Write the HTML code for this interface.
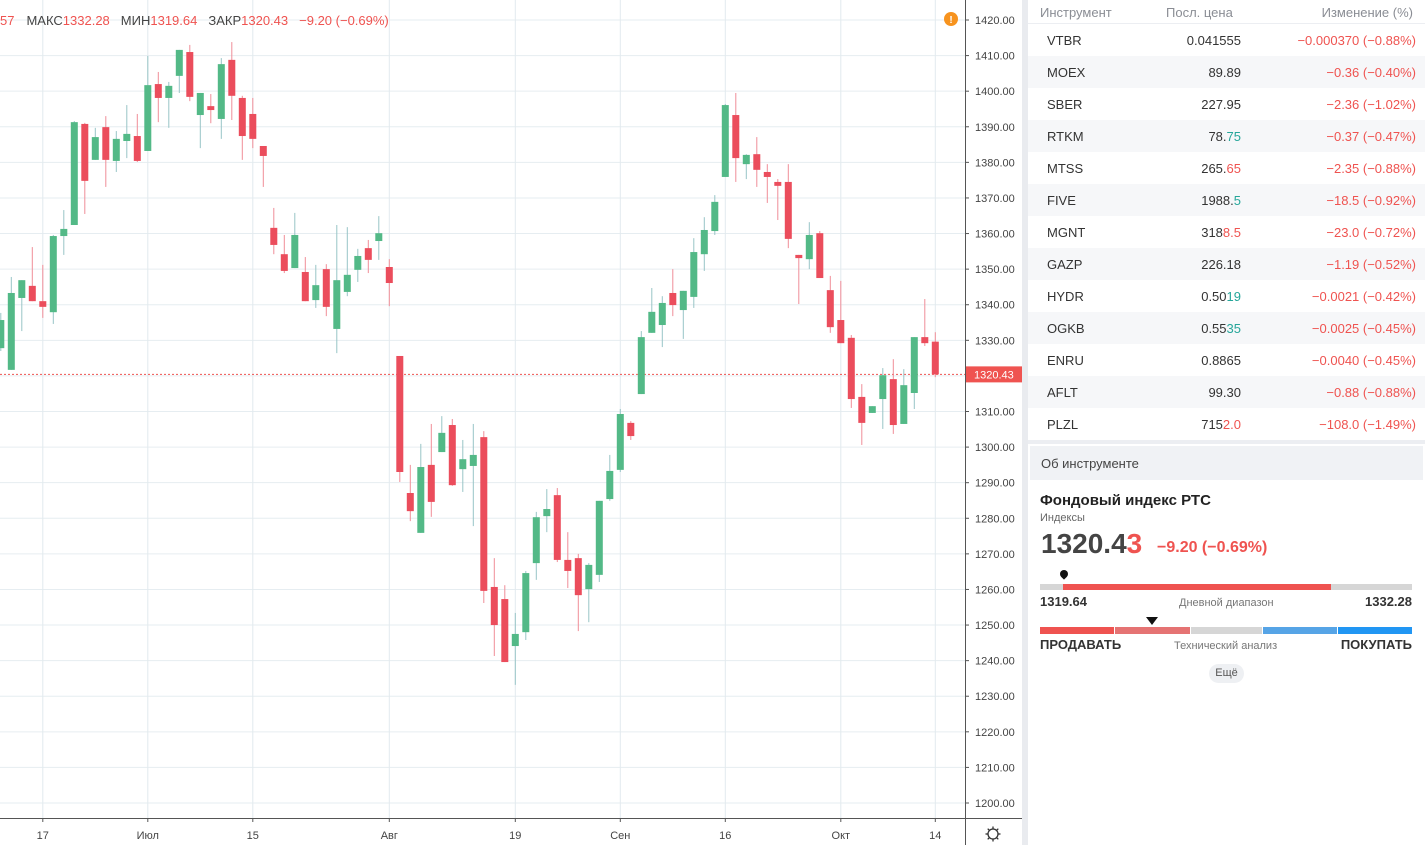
<!DOCTYPE html>
<html><head><meta charset="utf-8">
<style>
*{box-sizing:border-box;margin:0;padding:0}
body{width:1425px;height:845px;overflow:hidden;background:#fff;font-family:"Liberation Sans","DejaVu Sans",sans-serif;color:#333;position:relative}
#chart{position:absolute;left:0;top:0}
#sep{position:absolute;left:1022px;top:0;width:6px;height:845px;background:#e9ebef}
#panel{position:absolute;left:1028px;top:0;width:397px;height:845px;background:#fff}
.th{position:absolute;top:5px;font-size:13px;color:#8a8d94}
.row{position:absolute;left:0;width:397px;height:32px;font-size:13px}
.row.alt{background:#f6f7f9}
.row span{position:absolute;top:9px}
.sym{left:19px;color:#333}
.px{right:184px;color:#333}
.ch{right:9px;color:#ef5350}
.up{color:#26a69a}.dn{color:#ef5350}
</style></head><body>
<svg id="chart" width="1022" height="845"></svg>
<div id="sep"></div>
<div id="panel">
  <div class="th" style="left:12px">Инструмент</div>
  <div class="th" style="left:138px">Посл. цена</div>
  <div class="th" style="right:12px">Изменение (%)</div>
  <div style="position:absolute;left:0;top:23px;width:397px;height:1px;background:#eceef2"></div>
  <div id="rows"></div>
  <div style="position:absolute;left:0;top:440px;width:397px;height:4px;background:#eceef2"></div>
  <div style="position:absolute;left:2px;top:446px;width:393px;height:34px;background:#f0f2f5;font-size:13px;padding:10px 11px;color:#444">Об инструменте</div>
  <div style="position:absolute;left:12px;top:492px;font-size:15px;font-weight:bold;color:#222">Фондовый индекс РТС</div>
  <div style="position:absolute;left:12px;top:512px;font-size:11px;color:#666">Индексы</div>
  <div style="position:absolute;left:13px;top:528px;font-size:28px;font-weight:bold;color:#444">1320.4<span class="dn">3</span></div>
  <div style="position:absolute;left:129px;top:539px;font-size:16px;font-weight:bold;color:#ef5350">−9.20 (−0.69%)</div>
  <div style="position:absolute;left:12px;top:584px;width:372px;height:6px;background:#d6d6d6"></div>
  <div style="position:absolute;left:35px;top:584px;width:268px;height:6px;background:#ef5350"></div>
  <div style="position:absolute;left:32px;top:570px;width:8px;height:8px;border-radius:50% 50% 50% 0;transform:rotate(-45deg);background:#111"></div>
  <div style="position:absolute;left:12px;top:594px;font-size:13px;font-weight:bold;color:#333">1319.64</div>
  <div style="position:absolute;left:151px;top:597px;font-size:11px;color:#777">Дневной диапазон</div>
  <div style="position:absolute;right:13px;top:594px;font-size:13px;font-weight:bold;color:#333">1332.28</div>
  <div style="position:absolute;left:12px;top:627px;width:372px;height:7px">
    <div style="position:absolute;left:0;width:74px;height:7px;background:#ef5350"></div>
    <div style="position:absolute;left:75px;width:75px;height:7px;background:#e57373"></div>
    <div style="position:absolute;left:151px;width:71px;height:7px;background:#d6d6d6"></div>
    <div style="position:absolute;left:223px;width:74px;height:7px;background:#56a4e6"></div>
    <div style="position:absolute;left:298px;width:74px;height:7px;background:#2196f3"></div>
  </div>
  <div style="position:absolute;left:118px;top:617px;width:0;height:0;border-left:6px solid transparent;border-right:6px solid transparent;border-top:8px solid #111"></div>
  <div style="position:absolute;left:12px;top:637px;font-size:13px;font-weight:bold;color:#333">ПРОДАВАТЬ</div>
  <div style="position:absolute;left:146px;top:640px;font-size:11px;color:#777">Технический анализ</div>
  <div style="position:absolute;right:13px;top:637px;font-size:13px;font-weight:bold;color:#333">ПОКУПАТЬ</div>
  <div style="position:absolute;left:181px;top:664px;width:35px;height:19px;border-radius:10px;background:#eef0f3;font-size:11px;color:#555;text-align:center;line-height:19px">Ещё</div>
</div>
<script>
const syms=["VTBR","MOEX","SBER","RTKM","MTSS","FIVE","MGNT","GAZP","HYDR","OGKB","ENRU","AFLT","PLZL"];
const pricesA=["0.041555","89.89","227.95","78.","265.","1988.","318","226.18","0.50","0.55","0.8865","99.30","715"];
const pricesB=["","","","75","65","5","8.5","","19","35","","","2.0"];
const changes=["−0.000370 (−0.88%)","−0.36 (−0.40%)","−2.36 (−1.02%)","−0.37 (−0.47%)","−2.35 (−0.88%)","−18.5 (−0.92%)","−23.0 (−0.72%)","−1.19 (−0.52%)","−0.0021 (−0.42%)","−0.0025 (−0.45%)","−0.0040 (−0.45%)","−0.88 (−0.88%)","−108.0 (−1.49%)"];
const tailUp=[false,false,false,true,false,true,false,false,true,true,false,false,false];
const rowsEl=document.getElementById('rows');
syms.forEach((s,i)=>{
  const r=document.createElement('div');
  r.className='row'+(i%2?' alt':'');
  r.style.top=(24+32*i)+'px';
  
  
  r.innerHTML='<span class="sym">'+s+'</span><span class="px">'+pricesA[i]+'<span style="position:static" class="'+(tailUp[i]?'up':'dn')+'">'+pricesB[i]+'</span></span><span class="ch">'+changes[i]+'</span>';
  rowsEl.appendChild(r);
});

// ---- chart data ----
const opens=[1327.8,1321.7,1341.9,1345.3,1341.0,1337.9,1359.3,1362.4,1390.8,1380.7,1389.9,1380.4,1386.0,1387.4,1383.2,1402.0,1398.1,1404.3,1411.0,1393.3,1395.8,1392.2,1408.8,1398.1,1393.6,1384.6,1361.6,1354.2,1350.3,1349.2,1341.3,1350.0,1333.2,1343.6,1349.8,1355.9,1357.9,1350.6,1325.6,1287.1,1275.9,1295.0,1298.6,1306.2,1293.8,1294.7,1302.8,1260.7,1257.3,1244.1,1248.0,1267.4,1280.6,1286.5,1268.3,1268.8,1260.1,1264.1,1285.4,1293.6,1306.8,1314.9,1332.1,1334.3,1343.3,1338.5,1342.2,1354.2,1360.7,1375.9,1393.3,1379.5,1382.3,1377.3,1374.5,1374.5,1354.0,1352.8,1360.1,1344.1,1335.7,1330.7,1314.1,1309.6,1313.5,1319.1,1306.5,1315.2,1330.9,1329.63];
const highs=[1337.7,1347.8,1346.9,1356.2,1351.2,1359.6,1366.6,1391.6,1391.1,1389.7,1393.0,1388.8,1396.1,1393.6,1409.9,1405.4,1402.6,1411.6,1413.0,1399.5,1399.2,1409.3,1413.8,1398.7,1398.1,1384.6,1367.2,1359.6,1365.8,1353.4,1351.2,1351.4,1362.4,1361.8,1355.7,1358.2,1364.9,1352.8,1325.6,1295.0,1300.9,1306.5,1308.7,1307.9,1302.0,1306.5,1304.5,1268.8,1261.2,1253.4,1265.2,1281.8,1288.2,1288.5,1276.1,1270.0,1267.4,1284.9,1297.8,1310.7,1307.3,1332.6,1344.7,1342.4,1350.0,1343.9,1358.7,1364.6,1370.8,1396.4,1399.5,1382.3,1387.1,1379.5,1375.3,1379.5,1354.0,1363.2,1360.7,1348.1,1346.7,1331.5,1317.7,1311.5,1322.2,1324.7,1321.9,1330.9,1341.6,1332.28];
const lows=[1327.0,1321.7,1332.6,1341.0,1336.3,1334.6,1354.0,1362.4,1365.5,1380.7,1373.1,1377.3,1381.2,1380.1,1383.2,1391.3,1389.7,1399.5,1397.2,1384.0,1391.0,1386.6,1391.9,1380.7,1384.0,1373.1,1354.2,1348.9,1350.3,1341.0,1339.1,1336.8,1326.4,1342.4,1346.4,1348.9,1352.6,1339.6,1290.2,1279.2,1275.9,1280.4,1298.6,1289.1,1287.4,1277.8,1256.2,1241.3,1239.6,1233.2,1245.8,1262.7,1276.1,1267.7,1260.4,1248.3,1250.8,1262.1,1284.9,1293.0,1302.0,1314.9,1332.1,1328.1,1336.8,1330.4,1339.1,1349.5,1359.6,1375.9,1374.5,1375.3,1373.1,1368.6,1363.8,1355.9,1340.2,1350.0,1347.5,1332.1,1329.2,1311.0,1300.6,1309.6,1305.1,1303.7,1306.5,1310.7,1328.4,1319.64];
const closes=[1335.7,1343.3,1346.9,1341.0,1339.4,1359.3,1361.3,1391.3,1374.8,1387.1,1380.7,1386.6,1388.0,1380.4,1401.7,1398.1,1401.5,1411.6,1398.4,1399.5,1394.7,1407.6,1398.7,1387.4,1386.6,1381.8,1356.8,1349.5,1359.6,1341.0,1345.5,1339.4,1346.9,1348.4,1353.7,1352.6,1360.1,1346.1,1293.0,1282.0,1294.4,1284.6,1304.0,1289.3,1296.6,1297.8,1259.6,1250.0,1239.6,1247.5,1264.6,1280.3,1282.6,1268.3,1265.2,1258.4,1266.9,1284.9,1293.3,1309.3,1303.1,1330.9,1338.0,1340.5,1339.9,1343.9,1354.8,1361.0,1368.9,1396.1,1381.2,1382.1,1377.9,1375.9,1373.4,1358.5,1353.1,1359.6,1347.5,1333.7,1329.2,1313.5,1306.8,1311.5,1320.2,1306.2,1317.4,1330.9,1329.2,1320.43];
const priceTicks=[1420,1410,1400,1390,1380,1370,1360,1350,1340,1330,1320,1310,1300,1290,1280,1270,1260,1250,1240,1230,1220,1210,1200];
const dateLabels=["17","Июл","15","Авг","19","Сен","16","Окт","14"];
const dateIndex=[4,14,24,37,49,59,69,80,89];
const lastPrice=1320.43;

const NS='http://www.w3.org/2000/svg';
const svg=document.getElementById('chart');
const PLOT_W=965,PLOT_H=818;
const yS=p=>20+(1420-p)*(783/220);
const xS=i=>0.3+10.5*i;
function el(tag,attrs,parent){const e=document.createElementNS(NS,tag);for(const k in attrs)e.setAttribute(k,attrs[k]);(parent||svg).appendChild(e);return e;}
el('rect',{x:0,y:0,width:1022,height:845,fill:'#fff'});
priceTicks.forEach(p=>{
  const g=el('line',{x1:0,x2:PLOT_W,y1:yS(p),y2:yS(p),stroke:'#e6edf1','stroke-width':1});
  
  
});
dateIndex.forEach((d,k)=>{
  const g=el('line',{x1:xS(d)+0.5,x2:xS(d)+0.5,y1:0,y2:PLOT_H,stroke:'#e2eaee','stroke-width':1});
  
  
});
const lp=el('line',{x1:0,x2:PLOT_W,y1:yS(lastPrice),y2:yS(lastPrice),stroke:'#ef5350','stroke-width':1,'stroke-dasharray':'2 2'});


opens.forEach((o,i)=>{
  const c=closes[i],h=highs[i],l=lows[i];
  const up=c>=o;
  const col=up?'#53b987':'#eb4d5c';
  const wcol=up?'#98c4c6':'#f08d98';
  const x=xS(i);
  const g=el('g',{});
  
  
  el('line',{x1:x+0.5,x2:x+0.5,y1:yS(h),y2:yS(l),stroke:wcol,'stroke-width':1},g);
  const top=yS(Math.max(o,c)),bot=yS(Math.min(o,c));
  el('rect',{x:x-3,y:top,width:7,height:Math.max(bot-top,1.5),fill:col},g);
});
el('rect',{x:PLOT_W,y:0,width:57,height:845,fill:'#fff'});
el('line',{x1:PLOT_W+0.5,x2:PLOT_W+0.5,y1:0,y2:845,stroke:'#555','stroke-width':1});
el('line',{x1:0,x2:PLOT_W+57,y1:PLOT_H+0.5,y2:PLOT_H+0.5,stroke:'#555','stroke-width':1});
priceTicks.forEach(p=>{
  el('line',{x1:PLOT_W,x2:PLOT_W+4,y1:yS(p),y2:yS(p),stroke:'#555'});
  const t=el('text',{x:975,y:yS(p)+4,'font-size':11,fill:'#444','font-family':'Liberation Sans, sans-serif'});
  t.textContent=p.toFixed(2);
  
  
});
const lb=el('rect',{x:PLOT_W+1,y:yS(lastPrice)-8,width:56,height:16,fill:'#ef5350'});


const lt=el('text',{x:974,y:yS(lastPrice)+4,'font-size':11,fill:'#fff','font-family':'Liberation Sans, sans-serif'});
lt.textContent=lastPrice.toFixed(2);
dateIndex.forEach((d,k)=>{
  el('line',{x1:xS(d)+0.5,x2:xS(d)+0.5,y1:PLOT_H,y2:PLOT_H+4,stroke:'#555'});
  const t=el('text',{x:xS(d)+0.5,y:839,'font-size':11,fill:'#444','text-anchor':'middle','font-family':'Liberation Sans, sans-serif'});
  t.textContent=dateLabels[k];
  
  
});
const gear=el('g',{});


el('circle',{cx:993,cy:834,r:5,fill:'none',stroke:'#333','stroke-width':1.3},gear);
for(let a=0;a<8;a++){const r=a*Math.PI/4;el('line',{x1:993+5*Math.cos(r),y1:834+5*Math.sin(r),x2:993+7.5*Math.cos(r),y2:834+7.5*Math.sin(r),stroke:'#333','stroke-width':1.3},gear);}
const legParts=[['57',0,'#ef5350'],['МАКС',12,'#444'],['1332.28',0,'#ef5350'],['МИН',11,'#444'],['1319.64',0,'#ef5350'],['ЗАКР',11,'#444'],['1320.43',0,'#ef5350'],['−9.20 (−0.69%)',11,'#ef5350']];
const leg=el('text',{x:0,y:25,'font-size':13,'font-family':'Liberation Sans, sans-serif'});


legParts.forEach(([s,dx,c])=>{
  const t=el('tspan',{dx:dx,fill:c},leg);
  t.textContent=s;
});
const warn=el('g',{});


el('circle',{cx:951,cy:19,r:7,fill:'#f7931e'},warn);
const wt=el('text',{x:951,y:23,'font-size':10,'font-weight':'bold',fill:'#fff','text-anchor':'middle','font-family':'Liberation Sans, sans-serif'},warn);
wt.textContent='!';
</script>
</body></html>
